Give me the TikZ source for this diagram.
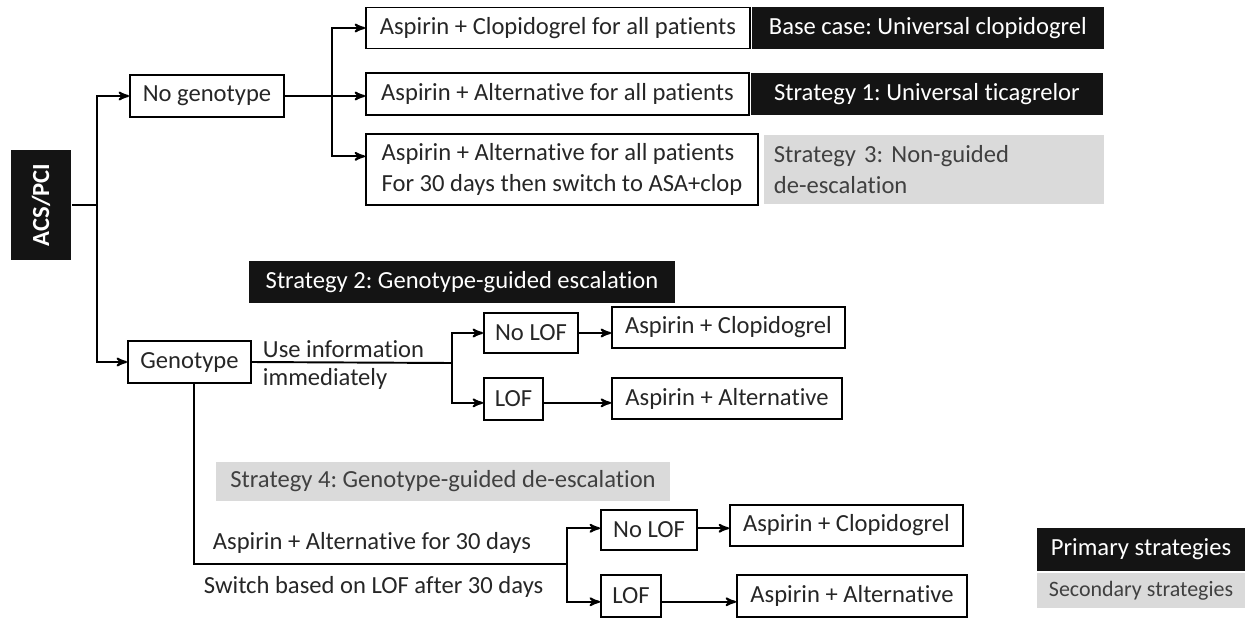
\documentclass[tikz,border=0pt]{standalone}
\usepackage{graphicx}
\usepackage{fontspec}
\setmainfont{Carlito}[Ligatures=NoCommon]
\usetikzlibrary{arrows, positioning}

\definecolor{txt}{HTML}{262626}
\definecolor{darkbox}{HTML}{141414}
\definecolor{lightbox}{HTML}{DADADA}
\definecolor{greytext}{HTML}{404040}
\frenchspacing

\begin{document}
\begin{tikzpicture}[->,>=stealth', x=0.02cm, y=-0.02cm, line width=1.1pt,
  every node/.style={font=\fontsize{14}{18}\selectfont, inner sep=0pt},
  box/.style={draw, text=txt, minimum height=0.82cm},
  primary/.style={fill=darkbox, text=white, minimum height=0.86cm},
  secondary/.style={fill=lightbox, text=greytext},
  lbl/.style={text=txt, anchor=west}]
  \useasboundingbox (0,0) rectangle (1250,619);

  \node[primary, minimum width=1.2cm, minimum height=2.2cm] (acs) at (41,205)
    {\rotatebox{90}{\bfseries ACS/PCI}};
  \node[box, minimum width=3.08cm, minimum height=0.84cm] (nogen) at (207,96) {No genotype};
  \node[box, minimum width=2.46cm, minimum height=0.84cm] (gen) at (189.5,362) {Genotype};

  % no genotype arm
  \node[box, minimum width=7.68cm] (c1) at (558,28) {Aspirin + Clopidogrel for all patients};
  \node[box, minimum width=7.66cm, minimum height=0.84cm] (c2) at (557.5,94) {Aspirin + Alternative for all patients};
  \node[box, minimum width=7.84cm, minimum height=1.42cm, align=left] (c3) at (562,169.5)
    {Aspirin + Alternative for all patients\\For 30 days then switch to ASA+clop};
  \node[primary, minimum width=7.04cm, right=0pt of c1] (base) {Base case: Universal clopidogrel};
  \node[primary, minimum width=7.04cm, right=0pt of c2] (s1) {Strategy 1: Universal ticagrelor};
  \node[secondary, minimum height=1.38cm, text width=6.4cm, inner xsep=0.2cm, align=left,
    right=0.08cm of c3] (s3) {Strategy 3: Non-guided\\de-escalation};

  % genotype arm, escalation
  \node[primary, minimum width=8.52cm, minimum height=0.84cm] (s2) at (462,282) {Strategy 2: Genotype-guided escalation};
  \node[box, minimum width=1.88cm, minimum height=0.8cm] (nolof1) at (531,333) {No LOF};
  \node[box, minimum width=1.18cm, minimum height=0.84cm] (lof1) at (513.5,399) {LOF};
  \node[box, minimum width=4.66cm] (ac1) at (728.5,327.5) {Aspirin + Clopidogrel};
  \node[box, minimum width=4.6cm] (aa1) at (727,398.5) {Aspirin + Alternative};
  \node[lbl] (useinfo) at (262,349) {Use information};
  \node[lbl] (immed) at (262,379) {immediately};

  % genotype arm, de-escalation
  \node[secondary, minimum width=9.08cm, minimum height=0.78cm] (s4) at (443,481.5) {Strategy 4: Genotype-guided de-escalation};
  \node[box, minimum width=1.92cm, minimum height=0.8cm] (nolof2) at (649,530) {No LOF};
  \node[box, minimum width=1.2cm, minimum height=0.84cm] (lof2) at (631,596) {LOF};
  \node[box, minimum width=4.66cm] (ac2) at (846.5,525.5) {Aspirin + Clopidogrel};
  \node[box, minimum width=4.6cm, minimum height=0.84cm] (aa2) at (852,596) {Aspirin + Alternative};
  \node[lbl] (alt30) at (212,543) {Aspirin + Alternative for 30 days};
  \node[lbl] (switch30) at (203,587) {Switch based on LOF after 30 days};

  % legend
  \node[primary, minimum width=4.16cm] (keyprim) at (1141,549.5) {Primary strategies};
  \node[secondary, minimum width=4.16cm, minimum height=0.7cm, font=\fontsize{12.5}{15}\selectfont,
    below=0pt of keyprim] (keysec) {Secondary strategies};

  \coordinate (j0) at (97,205);
  \coordinate (j1) at (332,96);
  \coordinate (j2) at (452,363);
  \coordinate (j3) at (567,564);

  \draw[-] (acs.east) -- (j0);
  \draw (j0) |- (nogen.west);
  \draw (j0) |- (gen.west);

  \draw[-] (nogen.east) -- (j1);
  \draw (j1) |- (c1.west);
  \draw (j1) -- (c2.west |- j1);
  \draw (j1) |- ([yshift=7.5pt]c3.west);

  \draw[-] (gen.east) -- (j2);
  \draw (j2) |- (nolof1.west);
  \draw (j2) |- ([yshift=-2.2pt]lof1.west);
  \draw (nolof1.east) -- (nolof1.east -| ac1.west);
  \draw ([yshift=-2.2pt]lof1.east) -- ([yshift=-2.2pt]lof1.east -| aa1.west);

  \draw[-] ([xshift=2.5pt]gen.south) |- (j3);
  \draw (j3) |- ([yshift=1pt]nolof2.west);
  \draw (j3) |- ([yshift=-3.3pt]lof2.west);
  \draw ([yshift=1pt]nolof2.east) -- ([yshift=1pt]nolof2.east -| ac2.west);
  \draw ([yshift=-3.3pt]lof2.east) -- ([yshift=-3.3pt]lof2.east -| aa2.west);
\end{tikzpicture}
\end{document}
